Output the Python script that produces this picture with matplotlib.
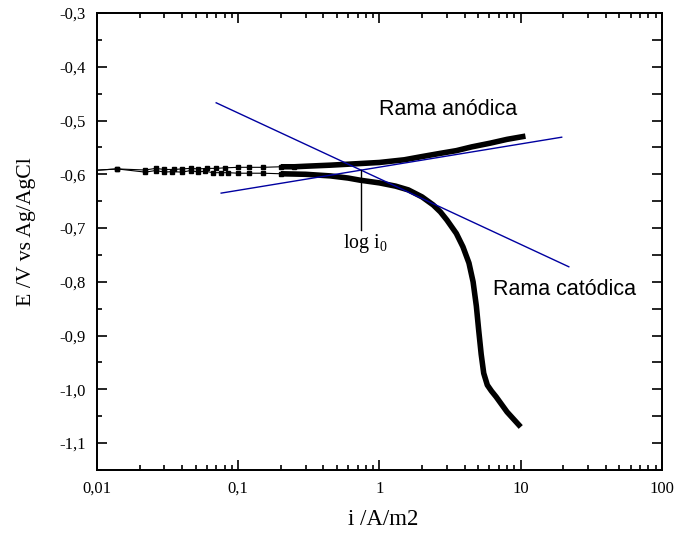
import numpy as np
import matplotlib
matplotlib.use("Agg")
import matplotlib.pyplot as plt
from matplotlib.ticker import FixedLocator, FixedFormatter, LogLocator, NullFormatter

plt.rcParams['font.family'] = ['Liberation Serif', 'DejaVu Serif']
plt.rcParams['mathtext.fontset'] = 'custom'
plt.rcParams['mathtext.rm'] = 'Liberation Serif'

# cathodic branch (i in A/m2, E in V vs Ag/AgCl)
cat_i = [0.008, 0.0139, 0.022, 0.026, 0.030, 0.034, 0.040, 0.046, 0.052, 0.058, 0.066,
         0.075, 0.085, 0.10, 0.12, 0.15, 0.20, 0.30, 0.45, 0.6, 0.73, 1.0, 1.3, 1.6,
         2.0, 2.4, 2.7, 3.0, 3.5, 3.9, 4.3, 4.6, 4.85, 5.04, 5.25, 5.47, 5.8,
         6.2, 6.7, 8.0, 10.0]
cat_E = [-0.594, -0.590, -0.596, -0.593, -0.596, -0.595, -0.596, -0.593, -0.596, -0.594, -0.597,
         -0.597, -0.597, -0.598, -0.598, -0.598, -0.599, -0.600, -0.603, -0.607, -0.611, -0.616, -0.622, -0.629,
         -0.642, -0.657, -0.670, -0.685, -0.710, -0.735, -0.765, -0.800, -0.845, -0.890, -0.935, -0.970, -0.992,
         -1.003, -1.014, -1.042, -1.070]

# anodic branch
an_i = [0.008, 0.0139, 0.022, 0.026, 0.030, 0.035, 0.040, 0.046, 0.052, 0.060, 0.07,
        0.08, 0.10, 0.12, 0.15, 0.20, 0.25, 0.30, 0.45, 0.62, 1.0, 1.5, 2.0, 2.7, 3.5,
        4.5, 6.1, 8.0, 10.8]
an_E = [-0.594, -0.590, -0.592, -0.589, -0.591, -0.591, -0.590, -0.589, -0.590, -0.589, -0.589,
        -0.588, -0.587, -0.587, -0.587, -0.586, -0.586, -0.585, -0.583, -0.581, -0.578, -0.573, -0.567, -0.561, -0.556,
        -0.549, -0.542, -0.535, -0.529]

# Tafel lines (end points)
tafel_cat_i = [0.0698, 21.9]
tafel_cat_E = [-0.467, -0.772]
tafel_an_i = [0.0757, 19.5]
tafel_an_E = [-0.635, -0.531]

# log i0 marker
i0 = 0.745
i0_E = [-0.592, -0.704]

yticks = [-0.3, -0.4, -0.5, -0.6, -0.7, -0.8, -0.9, -1.0, -1.1]
ytick_labels = ['-0,3', '-0,4', '-0,5', '-0,6', '-0,7', '-0,8', '-0,9', '-1,0', '-1,1']
xticks = [0.01, 0.1, 1, 10, 100]
xtick_labels = ['0,01', '0,1', '1', '10', '100']

fig = plt.figure(figsize=(6.75, 5.33), dpi=100)
ax = fig.add_axes([0.1437, 0.1182, 0.837, 0.8574])
ax.set_xscale('log')

for xi, yi, cut in [(cat_i, cat_E, 0.22), (an_i, an_E, 0.28)]:
    xi = np.array(xi)
    yi = np.array(yi)
    sparse = xi <= cut
    ax.plot(xi[sparse], yi[sparse], color='black', lw=0.8, marker='s', ms=2.6)
    dense = xi >= 0.2
    ax.plot(xi[dense], yi[dense], color='black', lw=4, solid_capstyle='butt')

ax.plot(tafel_cat_i, tafel_cat_E, color='#0000a0', lw=1)
ax.plot(tafel_an_i, tafel_an_E, color='#0000a0', lw=1)
ax.plot([i0, i0], i0_E, color='black', lw=1)

ax.text(i0 * 1.07, -0.728, r'log i$_\mathrm{0}$', fontsize=14.3, ha='center', va='center')
ax.text(1.0, -0.479, 'Rama anódica', family='Liberation Sans', fontsize=15.5, ha='left', va='center')
ax.text(6.34, -0.815, 'Rama catódica', family='Liberation Sans', fontsize=15.5, ha='left', va='center')

ax.set_xlim(0.01, 100)
ax.set_ylim(-1.15, -0.3)
ax.xaxis.set_major_locator(FixedLocator(xticks))
ax.xaxis.set_major_formatter(FixedFormatter(xtick_labels))
ax.xaxis.set_minor_locator(LogLocator(base=10, subs=np.arange(2, 10)))
ax.xaxis.set_minor_formatter(NullFormatter())
ax.yaxis.set_major_locator(FixedLocator(yticks))
ax.yaxis.set_major_formatter(FixedFormatter(ytick_labels))
ax.yaxis.set_minor_locator(FixedLocator(np.arange(-1.15, -0.3, 0.1)))

ax.tick_params(which='both', direction='in', top=True, right=False, labelsize=12, width=1.2)
ax.tick_params(which='major', length=7, pad=8)
ax.tick_params(which='minor', length=3.6)
for s in ax.spines.values():
    s.set_linewidth(1.3)

# right side: all ticks same length
ax2 = ax.twinx()
ax2.set_ylim(ax.get_ylim())
ax2.yaxis.set_major_locator(FixedLocator(np.arange(-1.15, -0.3, 0.05)))
ax2.yaxis.set_major_formatter(NullFormatter())
ax2.tick_params(direction='in', length=7, width=1.2)
for s in ax2.spines.values():
    s.set_linewidth(1.3)

ax.set_xlabel('i /A/m2', fontsize=16.5, va='center')
ax.set_ylabel('E /V vs Ag/AgCl', fontsize=15.7, va='center')
ax.xaxis.set_label_coords(0.507, -0.109)
ax.yaxis.set_label_coords(-0.124, 0.521)

fig.savefig('out.png', dpi=100)
